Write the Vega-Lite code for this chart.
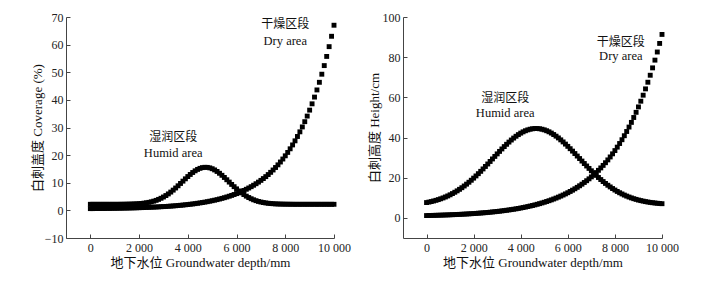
{
"$schema":"https://vega.github.io/schema/vega-lite/v6.json",
"background":"white",
"padding":{"left":31,"top":11,"right":5,"bottom":5},
"bounds":"flush",
"spacing":69,
"config":{"view":{"stroke":null},"axis":{"grid":false,"domainColor":"#444","tickColor":"#444","tickSize":-4,"labelPadding":8,"labelOverlap":false,"labelFlush":false,"labelSeparation":0,"labelFont":"Liberation Serif","labelFontSize":12,"labelColor":"#222","titleFont":"Liberation Serif, Noto Sans CJK SC","titleFontSize":13,"titleFontWeight":"normal","titleColor":"#111"}},
"datasets":{
"cov":[
{"x":0,"h":2.2,"d":0.64},{"x":100,"h":2.2,"d":0.64},{"x":200,"h":2.2,"d":0.65},{"x":300,"h":2.2,"d":0.66},{"x":400,"h":2.2,"d":0.67},{"x":500,"h":2.2,"d":0.68},{"x":600,"h":2.2,"d":0.70},{"x":700,"h":2.2,"d":0.71},{"x":800,"h":2.2,"d":0.72},{"x":900,"h":2.2,"d":0.74},
{"x":1000,"h":2.2,"d":0.75},{"x":1100,"h":2.2,"d":0.77},{"x":1200,"h":2.21,"d":0.78},{"x":1300,"h":2.22,"d":0.80},{"x":1400,"h":2.23,"d":0.82},{"x":1500,"h":2.25,"d":0.84},{"x":1600,"h":2.27,"d":0.86},{"x":1700,"h":2.29,"d":0.89},{"x":1800,"h":2.33,"d":0.91},{"x":1900,"h":2.37,"d":0.94},
{"x":2000,"h":2.43,"d":0.97},{"x":2100,"h":2.51,"d":1.00},{"x":2200,"h":2.62,"d":1.03},{"x":2300,"h":2.74,"d":1.06},{"x":2400,"h":2.90,"d":1.10},{"x":2500,"h":3.10,"d":1.14},{"x":2600,"h":3.34,"d":1.18},{"x":2700,"h":3.63,"d":1.22},{"x":2800,"h":3.98,"d":1.27},{"x":2900,"h":4.38,"d":1.32},
{"x":3000,"h":4.84,"d":1.37},{"x":3100,"h":5.37,"d":1.42},{"x":3200,"h":5.96,"d":1.48},{"x":3300,"h":6.62,"d":1.54},{"x":3400,"h":7.33,"d":1.61},{"x":3500,"h":8.10,"d":1.68},{"x":3600,"h":8.90,"d":1.76},{"x":3700,"h":9.74,"d":1.84},{"x":3800,"h":10.58,"d":1.92},{"x":3900,"h":11.42,"d":2.02},
{"x":4000,"h":12.24,"d":2.11},{"x":4100,"h":13.00,"d":2.22},{"x":4200,"h":13.71,"d":2.32},{"x":4300,"h":14.32,"d":2.44},{"x":4400,"h":14.83,"d":2.57},{"x":4500,"h":15.22,"d":2.70},{"x":4600,"h":15.48,"d":2.84},{"x":4700,"h":15.59,"d":2.99},{"x":4800,"h":15.56,"d":3.15},{"x":4900,"h":15.39,"d":3.32},
{"x":5000,"h":15.08,"d":3.50},{"x":5100,"h":14.64,"d":3.69},{"x":5200,"h":14.09,"d":3.89},{"x":5300,"h":13.43,"d":4.11},{"x":5400,"h":12.70,"d":4.34},{"x":5500,"h":11.91,"d":4.59},{"x":5600,"h":11.09,"d":4.85},{"x":5700,"h":10.24,"d":5.13},{"x":5800,"h":9.40,"d":5.42},{"x":5900,"h":8.58,"d":5.74},
{"x":6000,"h":7.79,"d":6.07},{"x":6100,"h":7.04,"d":6.43},{"x":6200,"h":6.35,"d":6.81},{"x":6300,"h":5.72,"d":7.21},{"x":6400,"h":5.15,"d":7.64},{"x":6500,"h":4.65,"d":8.10},{"x":6600,"h":4.21,"d":8.58},{"x":6700,"h":3.83,"d":9.10},{"x":6800,"h":3.51,"d":9.65},{"x":6900,"h":3.24,"d":10.23},
{"x":7000,"h":3.02,"d":10.86},{"x":7100,"h":2.84,"d":11.52},{"x":7200,"h":2.69,"d":12.22},{"x":7300,"h":2.57,"d":12.97},{"x":7400,"h":2.48,"d":13.77},{"x":7500,"h":2.41,"d":14.62},{"x":7600,"h":2.35,"d":15.52},{"x":7700,"h":2.31,"d":16.48},{"x":7800,"h":2.28,"d":17.51},{"x":7900,"h":2.26,"d":18.59},
{"x":8000,"h":2.24,"d":19.75},{"x":8100,"h":2.23,"d":20.98},{"x":8200,"h":2.22,"d":22.29},{"x":8300,"h":2.21,"d":23.69},{"x":8400,"h":2.2,"d":25.17},{"x":8500,"h":2.2,"d":26.75},{"x":8600,"h":2.2,"d":28.43},{"x":8700,"h":2.2,"d":30.21},{"x":8800,"h":2.2,"d":32.11},{"x":8900,"h":2.2,"d":34.13},
{"x":9000,"h":2.2,"d":36.29},{"x":9100,"h":2.2,"d":38.57},{"x":9200,"h":2.2,"d":41.01},{"x":9300,"h":2.2,"d":43.60},{"x":9400,"h":2.2,"d":46.36},{"x":9500,"h":2.2,"d":49.29},{"x":9600,"h":2.2,"d":52.41},{"x":9700,"h":2.2,"d":55.73},{"x":9800,"h":2.2,"d":59.27},{"x":9900,"h":2.2,"d":63.02},
{"x":10000,"h":2.2,"d":67.02}],
"hgt":[
{"x":0,"h":7.64,"d":1.17},{"x":100,"h":7.87,"d":1.20},{"x":200,"h":8.13,"d":1.23},{"x":300,"h":8.43,"d":1.26},{"x":400,"h":8.75,"d":1.30},{"x":500,"h":9.11,"d":1.33},{"x":600,"h":9.51,"d":1.37},{"x":700,"h":9.94,"d":1.41},{"x":800,"h":10.42,"d":1.46},{"x":900,"h":10.93,"d":1.50},
{"x":1000,"h":11.50,"d":1.55},{"x":1100,"h":12.11,"d":1.60},{"x":1200,"h":12.77,"d":1.65},{"x":1300,"h":13.47,"d":1.70},{"x":1400,"h":14.23,"d":1.76},{"x":1500,"h":15.03,"d":1.82},{"x":1600,"h":15.89,"d":1.88},{"x":1700,"h":16.80,"d":1.95},{"x":1800,"h":17.75,"d":2.02},{"x":1900,"h":18.75,"d":2.09},
{"x":2000,"h":19.80,"d":2.17},{"x":2100,"h":20.89,"d":2.25},{"x":2200,"h":22.02,"d":2.34},{"x":2300,"h":23.18,"d":2.43},{"x":2400,"h":24.38,"d":2.52},{"x":2500,"h":25.60,"d":2.62},{"x":2600,"h":26.84,"d":2.73},{"x":2700,"h":28.09,"d":2.84},{"x":2800,"h":29.35,"d":2.96},{"x":2900,"h":30.61,"d":3.08},
{"x":3000,"h":31.87,"d":3.21},{"x":3100,"h":33.10,"d":3.34},{"x":3200,"h":34.32,"d":3.49},{"x":3300,"h":35.50,"d":3.64},{"x":3400,"h":36.64,"d":3.80},{"x":3500,"h":37.74,"d":3.96},{"x":3600,"h":38.77,"d":4.14},{"x":3700,"h":39.74,"d":4.32},{"x":3800,"h":40.64,"d":4.51},{"x":3900,"h":41.46,"d":4.72},
{"x":4000,"h":42.20,"d":4.93},{"x":4100,"h":42.84,"d":5.16},{"x":4200,"h":43.38,"d":5.39},{"x":4300,"h":43.82,"d":5.64},{"x":4400,"h":44.15,"d":5.91},{"x":4500,"h":44.37,"d":6.18},{"x":4600,"h":44.49,"d":6.47},{"x":4700,"h":44.48,"d":6.78},{"x":4800,"h":44.38,"d":7.10},{"x":4900,"h":44.15,"d":7.44},
{"x":5000,"h":43.83,"d":7.79},{"x":5100,"h":43.39,"d":8.17},{"x":5200,"h":42.86,"d":8.56},{"x":5300,"h":42.23,"d":8.97},{"x":5400,"h":41.50,"d":9.41},{"x":5500,"h":40.69,"d":9.87},{"x":5600,"h":39.81,"d":10.35},{"x":5700,"h":38.85,"d":10.86},{"x":5800,"h":37.82,"d":11.39},{"x":5900,"h":36.74,"d":11.95},
{"x":6000,"h":35.62,"d":12.54},{"x":6100,"h":34.45,"d":13.16},{"x":6200,"h":33.25,"d":13.81},{"x":6300,"h":32.03,"d":14.50},{"x":6400,"h":30.79,"d":15.22},{"x":6500,"h":29.55,"d":15.99},{"x":6600,"h":28.30,"d":16.79},{"x":6700,"h":27.07,"d":17.63},{"x":6800,"h":25.84,"d":18.51},{"x":6900,"h":24.64,"d":19.45},
{"x":7000,"h":23.46,"d":20.42},{"x":7100,"h":22.31,"d":21.46},{"x":7200,"h":21.20,"d":22.54},{"x":7300,"h":20.12,"d":23.68},{"x":7400,"h":19.09,"d":24.88},{"x":7500,"h":18.10,"d":26.14},{"x":7600,"h":17.16,"d":27.47},{"x":7700,"h":16.26,"d":28.87},{"x":7800,"h":15.42,"d":30.34},{"x":7900,"h":14.62,"d":31.89},
{"x":8000,"h":13.88,"d":33.51},{"x":8100,"h":13.18,"d":35.23},{"x":8200,"h":12.53,"d":37.03},{"x":8300,"h":11.93,"d":38.92},{"x":8400,"h":11.37,"d":40.91},{"x":8500,"h":10.86,"d":43.01},{"x":8600,"h":10.39,"d":45.22},{"x":8700,"h":9.96,"d":47.54},{"x":8800,"h":9.57,"d":49.98},{"x":8900,"h":9.22,"d":52.55},
{"x":9000,"h":8.89,"d":55.25},{"x":9100,"h":8.61,"d":58.09},{"x":9200,"h":8.35,"d":61.08},{"x":9300,"h":8.11,"d":64.22},{"x":9400,"h":7.91,"d":67.53},{"x":9500,"h":7.72,"d":71.01},{"x":9600,"h":7.56,"d":74.68},{"x":9700,"h":7.42,"d":78.53},{"x":9800,"h":7.29,"d":82.58},{"x":9900,"h":7.18,"d":86.85},
{"x":10000,"h":7.08,"d":91.33}],
"labL":[{"x":8000,"y":67.3,"t":"干燥区段","k":"zh"},{"x":8000,"y":61.4,"t":"Dry area","k":"en"},{"x":3400,"y":26.6,"t":"湿润区段","k":"zh"},{"x":3400,"y":20.9,"t":"Humid area","k":"en"}],
"labR":[{"x":8250,"y":87.8,"t":"干燥区段","k":"zh"},{"x":8250,"y":80.6,"t":"Dry area","k":"en"},{"x":3340,"y":59.6,"t":"湿润区段","k":"zh"},{"x":3340,"y":52.4,"t":"Humid area","k":"en"}]
},
"hconcat":[
{"width":268,"height":221,
 "encoding":{
  "x":{"field":"x","type":"quantitative","scale":{"domain":[-1000,10000],"nice":false,"zero":false},"axis":{"values":[0,2000,4000,6000,8000,10000],"labelOverlap":false,"labelFlush":false,"labelExpr":"replace(format(datum.value, ','), ',', ' ')","title":"地下水位 Groundwater depth/mm","titlePadding":3}},
  "y":{"field":"y","type":"quantitative","scale":{"domain":[-10,70],"nice":false,"zero":false},"axis":{"values":[-10,0,10,20,30,40,50,60,70],"labelOverlap":false,"labelFlush":false,"labelPadding":7,"title":"白刺盖度 Coverage (%)","titlePadding":0}}},
 "layer":[
  {"data":{"name":"cov"},"transform":[{"fold":["h","d"],"as":["series","y"]}],
   "mark":{"type":"square","filled":true,"size":24,"color":"#000","opacity":1},
   "encoding":{"detail":{"field":"series"}}},
  {"data":{"name":"labL"},"transform":[{"filter":"datum.k == 'zh'"}],
   "mark":{"type":"text","font":"Noto Sans CJK SC","fontSize":12,"color":"#111"},
   "encoding":{"text":{"field":"t"}}},
  {"data":{"name":"labL"},"transform":[{"filter":"datum.k == 'en'"}],
   "mark":{"type":"text","font":"Liberation Serif","fontSize":12.5,"color":"#111"},
   "encoding":{"text":{"field":"t"}}}
 ]},
{"width":259,"height":221,
 "encoding":{
  "x":{"field":"x","type":"quantitative","scale":{"domain":[-1000,10000],"nice":false,"zero":false},"axis":{"values":[0,2000,4000,6000,8000,10000],"labelOverlap":false,"labelFlush":false,"labelExpr":"replace(format(datum.value, ','), ',', ' ')","title":"地下水位 Groundwater depth/mm","titlePadding":3}},
  "y":{"field":"y","type":"quantitative","scale":{"domain":[-10,100],"nice":false,"zero":false},"axis":{"values":[0,20,40,60,80,100],"labelOverlap":false,"labelFlush":false,"labelPadding":7,"title":"白刺高度 Height/cm","titlePadding":1}}},
 "layer":[
  {"data":{"name":"hgt"},"transform":[{"fold":["h","d"],"as":["series","y"]}],
   "mark":{"type":"square","filled":true,"size":24,"color":"#000","opacity":1},
   "encoding":{"detail":{"field":"series"}}},
  {"data":{"name":"labR"},"transform":[{"filter":"datum.k == 'zh'"}],
   "mark":{"type":"text","font":"Noto Sans CJK SC","fontSize":12,"color":"#111"},
   "encoding":{"text":{"field":"t"}}},
  {"data":{"name":"labR"},"transform":[{"filter":"datum.k == 'en'"}],
   "mark":{"type":"text","font":"Liberation Serif","fontSize":12.5,"color":"#111"},
   "encoding":{"text":{"field":"t"}}}
 ]}
]
}
